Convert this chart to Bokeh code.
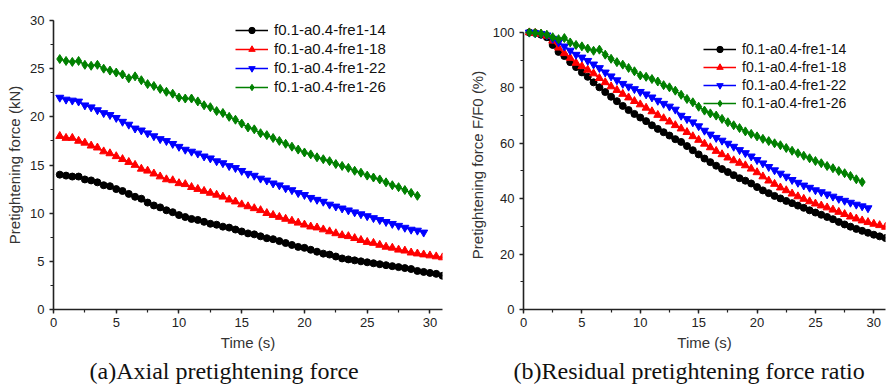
from bokeh.plotting import figure
from bokeh.models import (Legend, LegendItem, SingleIntervalTicker, Title, Range1d)
from bokeh.layouts import row
from bokeh.embed import file_html
from bokeh.resources import INLINE

# ---------------- data ----------------
TIME = [0.5, 1.0, 1.5, 2.0, 2.5, 3.0, 3.5, 4.0, 4.5, 5.0, 5.5, 6.0, 6.5, 7.0, 7.5, 8.0,
        8.5, 9.0, 9.5, 10.0, 10.5, 11.0, 11.5, 12.0, 12.5, 13.0, 13.5, 14.0, 14.5, 15.0,
        15.5, 16.0, 16.5, 17.0, 17.5, 18.0, 18.5, 19.0, 19.5, 20.0, 20.5, 21.0, 21.5, 22.0,
        22.5, 23.0, 23.5, 24.0, 24.5, 25.0, 25.5, 26.0, 26.5, 27.0, 27.5, 28.0, 28.5, 29.0,
        29.5, 30.0, 30.5, 31.0]

SERIES = ["f0.1-a0.4-fre1-14", "f0.1-a0.4-fre1-18", "f0.1-a0.4-fre1-22", "f0.1-a0.4-fre1-26"]

# (a) axial pretightening force, kN
force_14 = [14.0, 13.9, 13.8, 13.8, 13.5, 13.4, 13.2, 12.9, 12.8, 12.5, 12.3, 12.0, 11.7, 11.5,
            11.1, 10.8, 10.6, 10.3, 10.1, 9.8, 9.6, 9.4, 9.3, 9.1, 8.9, 8.8, 8.6, 8.5, 8.3, 8.1,
            7.9, 7.8, 7.6, 7.4, 7.3, 7.1, 6.9, 6.7, 6.5, 6.4, 6.2, 6.0, 5.8, 5.7, 5.5, 5.3, 5.2,
            5.1, 5.0, 4.9, 4.8, 4.7, 4.6, 4.5, 4.4, 4.3, 4.2, 4.0, 3.9, 3.8, 3.7, 3.5]
force_18 = [18.0, 17.8, 17.8, 17.5, 17.3, 17.0, 16.8, 16.4, 16.2, 15.9, 15.6, 15.3, 15.0, 14.6,
            14.4, 14.1, 13.8, 13.5, 13.4, 13.1, 13.0, 12.7, 12.5, 12.3, 12.1, 11.9, 11.7, 11.4,
            11.2, 10.9, 10.7, 10.5, 10.3, 10.0, 9.8, 9.6, 9.4, 9.2, 9.0, 8.8, 8.6, 8.5, 8.3, 8.1,
            7.9, 7.7, 7.6, 7.4, 7.2, 7.0, 6.9, 6.7, 6.5, 6.4, 6.2, 6.1, 5.9, 5.8, 5.7, 5.6, 5.5, 5.4]
force_22 = [22.0, 21.8, 21.7, 21.6, 21.2, 21.0, 20.7, 20.4, 20.2, 19.9, 19.5, 19.2, 18.8, 18.6,
            18.3, 18.0, 17.7, 17.5, 17.2, 16.9, 16.6, 16.4, 16.2, 15.9, 15.7, 15.4, 15.2, 14.9,
            14.7, 14.4, 14.1, 13.9, 13.6, 13.4, 13.1, 12.9, 12.6, 12.4, 12.1, 11.9, 11.6, 11.4,
            11.2, 10.9, 10.7, 10.5, 10.3, 10.1, 9.9, 9.7, 9.5, 9.3, 9.1, 8.9, 8.7, 8.5, 8.3, 8.2, 8.0]
force_26 = [26.0, 25.8, 25.7, 25.8, 25.4, 25.3, 25.4, 25.0, 24.8, 24.6, 24.4, 24.0, 24.2, 23.8,
            23.4, 23.2, 22.9, 22.6, 22.4, 22.0, 21.9, 21.9, 21.6, 21.2, 21.0, 20.6, 20.4, 20.0,
            19.7, 19.3, 18.9, 18.7, 18.3, 18.1, 17.8, 17.5, 17.2, 16.9, 16.6, 16.3, 16.1, 15.8,
            15.6, 15.4, 15.1, 14.9, 14.7, 14.4, 14.2, 13.9, 13.7, 13.5, 13.2, 12.9, 12.7, 12.4,
            12.1, 11.8]

# (b) residual pretightening force ratio F/F0, %
ratio_14 = [100.0, 99.8, 99.2, 98.3, 95.5, 93.0, 91.5, 89.3, 87.5, 85.6, 84.0, 82.0, 80.2, 78.5,
            76.8, 75.2, 73.5, 72.0, 70.6, 69.3, 68.0, 66.5, 65.2, 64.0, 62.8, 61.5, 60.5, 59.0,
            57.5, 56.0, 54.5, 53.2, 51.9, 50.7, 49.6, 48.5, 47.4, 46.5, 45.5, 44.2, 43.0, 42.0,
            41.0, 40.1, 39.2, 38.4, 37.5, 36.7, 35.8, 35.0, 34.2, 33.4, 32.6, 31.6, 30.7, 29.9,
            29.1, 28.4, 27.7, 27.0, 26.4, 25.8]
ratio_18 = [100.0, 99.8, 99.5, 98.8, 97.0, 94.5, 92.5, 90.8, 89.0, 87.8, 86.5, 85.2, 83.5, 82.0,
            80.5, 79.2, 77.8, 76.5, 75.2, 74.0, 72.8, 71.5, 70.2, 69.0, 67.8, 66.5, 65.3, 64.0,
            62.5, 61.2, 59.8, 58.5, 57.2, 56.0, 54.8, 53.8, 52.9, 52.0, 50.8, 49.5, 48.0, 46.5,
            45.3, 44.0, 43.0, 41.8, 40.8, 39.9, 39.0, 38.2, 37.5, 36.8, 36.0, 35.2, 34.4, 33.5,
            32.8, 32.1, 31.5, 30.9, 30.4, 29.8]
ratio_22 = [100.0, 99.8, 99.5, 99.0, 97.8, 96.5, 95.0, 93.5, 92.0, 91.0, 89.8, 88.5, 87.2, 85.6,
            84.2, 82.8, 81.5, 80.5, 79.6, 78.6, 77.7, 76.6, 75.4, 74.3, 73.3, 72.2, 70.0, 68.8,
            67.6, 66.2, 64.6, 63.2, 62.0, 61.0, 59.9, 58.8, 57.6, 56.5, 55.3, 54.0, 52.8, 51.5,
            50.3, 49.1, 48.0, 46.8, 45.8, 44.8, 44.0, 43.1, 42.4, 41.6, 40.8, 40.0, 39.3, 38.6,
            37.9, 37.3, 36.6]
ratio_26 = [100.0, 99.8, 99.6, 99.2, 98.3, 97.6, 98.0, 96.4, 95.5, 95.0, 94.2, 93.4, 93.8, 92.0,
            90.5, 89.3, 88.4, 87.2, 86.0, 84.5, 84.0, 83.2, 82.3, 81.0, 80.2, 79.0, 77.5, 76.0,
            74.8, 73.2, 71.8, 70.8, 70.0, 68.8, 67.6, 66.5, 65.5, 64.3, 63.4, 62.5, 61.6, 60.8,
            60.0, 59.3, 58.3, 57.3, 56.4, 55.5, 54.6, 53.6, 52.8, 51.8, 51.0, 50.0, 49.2, 48.2,
            47.0, 46.0]

COLORS = ["#000000", "#ff0000", "#0000ff", "#008000"]
MARKERS = ["circle", "triangle", "inverted_triangle", "diamond"]
MSIZES = [7, 8, 8, 9]

CAPTION_A = "(a)Axial pretightening force"
CAPTION_B = "(b)Residual pretightening force ratio"

SANS = "Liberation Sans"
SERIF = "Liberation Serif"

FRAME_H = 289
TOP_B = 20
BOTTOM_B = 78


def make_panel(fw, left_b, right_b, yrange, ybounds, ytick, ylabel, series, legend_loc,
               legend_font, caption, caption_offset):
    p = figure(frame_width=fw, frame_height=FRAME_H, output_backend="svg",
               toolbar_location=None,
               x_range=Range1d(0, 31), y_range=Range1d(*yrange),
               min_border_left=left_b, min_border_right=right_b,
               min_border_top=TOP_B, min_border_bottom=BOTTOM_B)
    p.outline_line_color = None
    p.grid.visible = False
    p.background_fill_color = "#ffffff"
    p.border_fill_color = "#ffffff"

    p.xaxis.ticker = SingleIntervalTicker(interval=5, num_minor_ticks=2)
    p.yaxis.ticker = SingleIntervalTicker(interval=ytick, num_minor_ticks=2)
    p.yaxis.bounds = ybounds
    for ax in (p.xaxis, p.yaxis):
        ax.axis_line_color = "#222222"
        ax.axis_line_width = 1.6
        ax.major_tick_line_color = "#222222"
        ax.minor_tick_line_color = "#222222"
        ax.major_tick_line_width = 1.4
        ax.minor_tick_line_width = 1.2
        ax.major_tick_in = 0
        ax.major_tick_out = 4
        ax.minor_tick_in = 0
        ax.minor_tick_out = 3
        ax.major_label_text_font = SANS
        ax.major_label_text_font_size = "13px"
        ax.major_label_text_color = "#222222"
        ax.axis_label_text_font = SANS
        ax.axis_label_text_font_size = "15px"
        ax.axis_label_text_font_style = "normal"
        ax.axis_label_text_color = "#333333"
    p.xaxis.axis_label = "Time (s)"
    p.yaxis.axis_label = ylabel
    p.xaxis.major_label_standoff = 4
    p.xaxis.axis_label_standoff = 4
    p.yaxis.major_label_standoff = 5
    p.yaxis.axis_label_standoff = 4

    items = []
    for (xs, ys), name, c, m, s in zip(series, SERIES, COLORS, MARKERS, MSIZES):
        lr = p.line(xs, ys, line_color=c, line_width=1.7)
        sr = p.scatter(xs, ys, marker=m, size=s, fill_color=c, line_color=c)
        items.append(LegendItem(label=name, renderers=[lr, sr]))
    leg = Legend(items=items, location=legend_loc, padding=0, margin=0,
                 border_line_color=None, background_fill_alpha=0,
                 label_text_font=SANS, label_text_font_size=legend_font,
                 label_text_color="#111111", glyph_width=33, glyph_height=16,
                 label_height=16, label_standoff=6, spacing=2)
    p.add_layout(leg, "center")

    p.add_layout(Title(text=caption, align="left", text_font=SERIF,
                       text_font_size="24px", text_font_style="normal",
                       text_color="#111111", standoff=4, offset=caption_offset), "below")
    return p


pa = make_panel(389, 53, 18, (0, 30), (0, 30), 5, "Pretightening force (kN)",
                [(TIME, force_14), (TIME, force_18), (TIME[:len(force_22)], force_22),
                 (TIME[:len(force_26)], force_26)],
                (182, 214), "15px", CAPTION_A, 36)

pb = make_panel(362, 63, 1, (0, 104.33), (0, 100), 20, "Pretightening force F/F0 (%)",
                [(TIME, ratio_14), (TIME, ratio_18), (TIME[:len(ratio_22)], ratio_22),
                 (TIME[:len(ratio_26)], ratio_26)],
                (180, 198), "14px", CAPTION_B, -10)

layout = row(pa, pb)
open("out.html", "w").write(file_html(layout, INLINE))
